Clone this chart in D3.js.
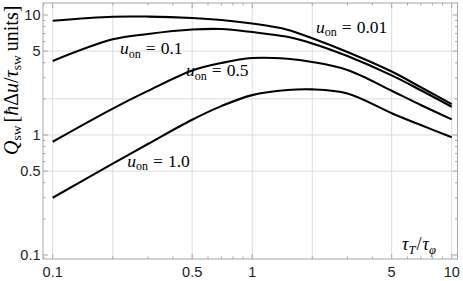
<!DOCTYPE html>
<html><head><meta charset="utf-8">
<script src="https://cdn.jsdelivr.net/npm/d3@7"></script>
<style>
html,body{margin:0;padding:0;background:#fff;}
svg{display:block;}
</style></head>
<body>
<svg id="chart" width="463" height="281"></svg>
<script>
// ---- data ----
const xValues = [0.1, 0.2, 0.3, 0.5, 0.7, 1, 1.5, 2, 3, 5, 7, 10];
const seriesNames = ["0.01", "0.1", "0.5", "1.0"];
const q001 = [8.96, 9.68, 9.70, 9.44, 9.09, 8.49, 7.55, 6.40, 4.92, 3.38, 2.50, 1.81];
const q01  = [4.14, 6.27, 6.95, 7.57, 7.64, 7.21, 6.58, 5.80, 4.55, 3.14, 2.36, 1.72];
const q05  = [0.879, 1.66, 2.33, 3.45, 3.98, 4.38, 4.32, 4.06, 3.48, 2.34, 1.78, 1.35];
const q10  = [0.30, 0.577, 0.841, 1.34, 1.74, 2.15, 2.37, 2.40, 2.22, 1.52, 1.21, 0.957];
const xTickLabels = [0.1, 0.5, 1, 5, 10];
const yTickLabels = [0.1, 0.5, 1, 5, 10];
const gridX = [0.1, 0.2, 0.5, 1, 2, 5, 10];
const gridY = [0.5, 1, 2, 5];
const labelAnchors = [ // label start / baseline in data coordinates
  {name:"0.01", x:2.09,  y:7.08},
  {name:"0.1",  x:0.2175, y:4.69},
  {name:"0.5",  x:0.466, y:3.10},
  {name:"1.0",  x:0.2366, y:0.544}
];

const svg = d3.select("#chart");
const L = 43, R = 457.5, T = 3, B = 259;
const x = d3.scaleLog().domain([0.0894, 10.69]).range([L, R]);
const y = d3.scaleLog().domain([0.0926, 12.59]).range([B, T]);

// grid
const g = svg.append("g");
g.selectAll(".gx").data(gridX).enter().append("line")
  .attr("x1", d => x(d)).attr("x2", d => x(d)).attr("y1", T).attr("y2", B)
  .attr("stroke", "#d9dddd").attr("stroke-width", 1);
g.selectAll(".gy").data(gridY).enter().append("line")
  .attr("y1", d => y(d)).attr("y2", d => y(d)).attr("x1", L).attr("x2", R)
  .attr("stroke", "#d9dddd").attr("stroke-width", 1);

// ticks
function minorTicks(lo, hi) {
  const out = [];
  for (let e = -2; e <= 1; e++) for (let m = 1; m <= 9; m++) {
    const v = m * Math.pow(10, e);
    if (v >= lo && v <= hi) out.push(v);
  }
  return out;
}
const xt = minorTicks(0.0894, 10.69);
const yt = minorTicks(0.0926, 12.59);
const tickCol = "#a6a6a6";
const ax = svg.append("g");
xt.forEach(v => {
  const len = xTickLabels.some(t => Math.abs(t - v) < 1e-9) ? 5 : 2.5;
  ax.append("line").attr("x1", x(v)).attr("x2", x(v)).attr("y1", B).attr("y2", B - len).attr("stroke", tickCol);
  ax.append("line").attr("x1", x(v)).attr("x2", x(v)).attr("y1", T).attr("y2", T + len).attr("stroke", tickCol);
});
yt.forEach(v => {
  const len = yTickLabels.some(t => Math.abs(t - v) < 1e-9) ? 5 : 2.5;
  ax.append("line").attr("y1", y(v)).attr("y2", y(v)).attr("x1", L).attr("x2", L + len).attr("stroke", tickCol);
  ax.append("line").attr("y1", y(v)).attr("y2", y(v)).attr("x1", R).attr("x2", R - len).attr("stroke", tickCol);
});
// frame
svg.append("rect").attr("x", L).attr("y", T).attr("width", R - L).attr("height", B - T)
  .attr("fill", "none").attr("stroke", tickCol).attr("stroke-width", 1);

// tick labels
const fmt = v => String(v);
svg.append("g").selectAll("text").data(xTickLabels).enter().append("text")
  .attr("x", d => x(d)).attr("y", 276.5).attr("text-anchor", "middle")
  .attr("font-family", "Liberation Sans, Arial, sans-serif").attr("font-size", 14.5)
  .attr("fill", "#222").text(fmt);
svg.append("g").selectAll("text").data(yTickLabels).enter().append("text")
  .attr("x", 40.5).attr("y", d => y(d) + 5).attr("text-anchor", "end")
  .attr("font-family", "Liberation Sans, Arial, sans-serif").attr("font-size", 14.5)
  .attr("fill", "#222").text(fmt);

// curves
const series = [q001, q01, q05, q10];
const line = d3.line().x(d => x(d[0])).y(d => y(d[1])).curve(d3.curveCatmullRom.alpha(0.5));
series.forEach(s => {
  svg.append("path").datum(xValues.map((xv, i) => [xv, s[i]]))
    .attr("d", line).attr("fill", "none").attr("stroke", "#000").attr("stroke-width", 2.1)
    .attr("stroke-linecap", "butt");
});

// curve labels
const serif = "Liberation Serif, Times New Roman, serif";
labelAnchors.forEach(a => {
  const t = svg.append("text").attr("x", x(a.x)).attr("y", y(a.y))
    .attr("font-family", serif).attr("font-size", 17.5).attr("fill", "#000");
  t.append("tspan").attr("font-style", "italic").text("u");
  t.append("tspan").attr("font-size", 12).attr("dy", 3.5).text("on");
  t.append("tspan").attr("dy", -3.5).attr("dx", 5).text("=");
  t.append("tspan").attr("dx", 5).text(a.name);
});

// x-axis label inside plot
const xl = svg.append("text").attr("x", 402).attr("y", 250)
  .attr("font-family", serif).attr("font-size", 18).attr("font-style", "italic").attr("fill", "#000");
xl.append("tspan").text("τ");
xl.append("tspan").attr("font-size", 12.5).attr("dy", 3.5).text("T");
xl.append("tspan").attr("dy", -3.5).attr("font-style", "normal").attr("dx", 1).text("/");
xl.append("tspan").attr("dx", 1).text("τ");
xl.append("tspan").attr("font-size", 12.5).attr("dy", 3.5).text("φ");

// y-axis label
const yl = svg.append("text").attr("transform", "translate(17.5,155) rotate(-90)")
  .attr("text-anchor", "start").attr("font-family", serif).attr("font-size", 20).attr("fill", "#000");
yl.append("tspan").attr("font-style", "italic").text("Q");
yl.append("tspan").attr("font-size", 13.5).attr("dy", 3.5).text("sw");
yl.append("tspan").attr("dy", -3.5).attr("dx", 3).text("[");
yl.append("tspan").attr("font-style", "italic").text("ħ");
yl.append("tspan").text("Δ");
yl.append("tspan").attr("font-style", "italic").text("u");
yl.append("tspan").text("/");
yl.append("tspan").attr("font-style", "italic").text("τ");
yl.append("tspan").attr("font-size", 13.5).attr("dy", 3.5).text("sw");
yl.append("tspan").attr("dy", -3.5).attr("dx", 4).text("units]");
</script>
</body></html>
